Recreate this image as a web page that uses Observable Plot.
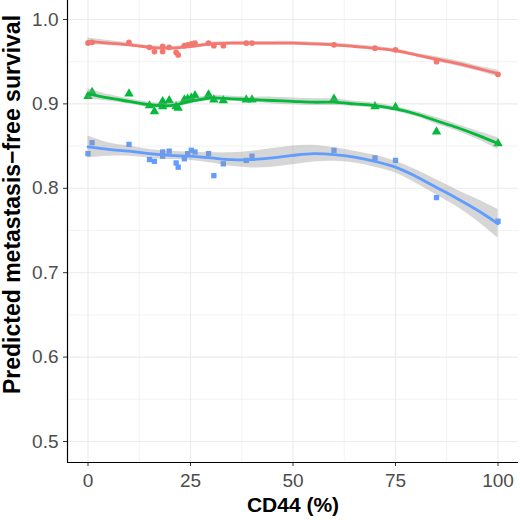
<!DOCTYPE html>
<html>
<head>
<meta charset="utf-8">
<script src="https://cdn.jsdelivr.net/npm/d3@7"></script>
<script src="https://cdn.jsdelivr.net/npm/@observablehq/plot@0.6"></script>
<style>
  html, body { margin: 0; padding: 0; background: white; }
</style>
</head>
<body>
<div id="chart"></div>
<script>
// CD44 (%) values of the observations (shared by the three series)
const cd44 = [0, 1, 10, 15, 16.2, 18.2, 18.2, 19.8, 21.5, 22, 23.5, 24.3, 25.2, 26.1, 29.4, 30.7, 33, 38.6, 40, 60, 70, 75, 85, 100];
// Predicted metastasis-free survival per series
const redPts   = [0.972, 0.973, 0.973, 0.967, 0.962, 0.968, 0.962, 0.967, 0.961, 0.958, 0.969, 0.970, 0.971, 0.972, 0.972, 0.969, 0.969, 0.972, 0.972, 0.970, 0.966, 0.964, 0.950, 0.935];
const greenPts = [0.909, 0.914, 0.912, 0.898, 0.891, 0.903, 0.897, 0.904, 0.897, 0.895, 0.905, 0.906, 0.907, 0.910, 0.911, 0.905, 0.904, 0.905, 0.905, 0.906, 0.897, 0.896, 0.867, 0.853];
const bluePts  = [0.841, 0.854, 0.852, 0.834, 0.832, 0.843, 0.838, 0.844, 0.830, 0.825, 0.835, 0.841, 0.845, 0.843, 0.841, 0.815, 0.829, 0.833, 0.838, 0.845, 0.836, 0.833, 0.789, 0.761];

const smoothX   = [0, 5, 10, 15, 20, 25, 30, 35, 40, 45, 50, 55, 60, 65, 70, 75, 80, 85, 90, 95, 100];
const redFit    = [0.974, 0.972, 0.970, 0.967, 0.966, 0.968, 0.971, 0.972, 0.972, 0.972, 0.972, 0.971, 0.970, 0.968, 0.966, 0.963, 0.958, 0.953, 0.948, 0.942, 0.936];
const redHw     = [0.004, 0.003, 0.002, 0.002, 0.002, 0.002, 0.002, 0.002, 0.002, 0.002, 0.002, 0.002, 0.002, 0.002, 0.002, 0.002, 0.002, 0.003, 0.003, 0.003, 0.004];
const greenFit  = [0.912, 0.907, 0.903, 0.899, 0.898, 0.903, 0.907, 0.906, 0.905, 0.904, 0.903, 0.902, 0.902, 0.900, 0.898, 0.894, 0.888, 0.880, 0.872, 0.863, 0.853];
const greenHw   = [0.006, 0.004, 0.003, 0.003, 0.003, 0.003, 0.003, 0.003, 0.003, 0.004, 0.004, 0.004, 0.004, 0.003, 0.003, 0.003, 0.003, 0.004, 0.004, 0.005, 0.007];
const blueFit   = [0.849, 0.846, 0.844, 0.841, 0.839, 0.838, 0.836, 0.834, 0.834, 0.836, 0.839, 0.841, 0.840, 0.837, 0.832, 0.825, 0.814, 0.801, 0.788, 0.774, 0.758];
const blueHw    = [0.013, 0.008, 0.006, 0.005, 0.005, 0.005, 0.006, 0.008, 0.010, 0.011, 0.011, 0.010, 0.008, 0.007, 0.007, 0.007, 0.008, 0.009, 0.010, 0.013, 0.017];

const xTicks = [0, 25, 50, 75, 100];
const xMinor = [12.5, 37.5, 62.5, 87.5];
const yTicks = [0.5, 0.6, 0.7, 0.8, 0.9, 1.0];
const yMinor = [0.55, 0.65, 0.75, 0.85, 0.95];
const xTitle = "CD44 (%)";
const yTitle = "Predicted metastasis\u2212free survival";

const colors = {red: "#F8766D", green: "#00BA38", blue: "#619CFF"};

const pts = (ys) => cd44.map((x, i) => ({x, y: ys[i]}));
const smooth = (fit, hw) => smoothX.map((x, i) => ({x, y: fit[i], lo: fit[i] - hw[i], hi: fit[i] + hw[i]}));

const series = [
  {pts: pts(redPts), sm: smooth(redFit, redHw), color: colors.red, symbol: "circle", r: 2.9},
  {pts: pts(greenPts), sm: smooth(greenFit, greenHw), color: colors.green, symbol: "triangle", r: 3.5},
  {pts: pts(bluePts), sm: smooth(blueFit, blueHw), color: colors.blue, symbol: "square", r: 3.0}
];

const curve = "catmull-rom";
const xDom = [-5, 105];
const yDom = [0.4751, 1.0225];

const marks = [
  Plot.ruleX(xMinor, {stroke: "#ebebeb", strokeWidth: 0.6}),
  Plot.ruleY(yMinor, {stroke: "#ebebeb", strokeWidth: 0.6}),
  Plot.ruleX(xTicks, {stroke: "#ebebeb", strokeWidth: 1.1}),
  Plot.ruleY(yTicks, {stroke: "#ebebeb", strokeWidth: 1.1})
];
for (const s of series) {
  marks.push(Plot.dot(s.pts, {x: "x", y: "y", symbol: () => s.symbol, fill: s.color, r: s.r, stroke: "none"}));
}
for (const s of series) {
  marks.push(Plot.areaY(s.sm, {x: "x", y1: "lo", y2: "hi", fill: "#999999", fillOpacity: 0.4, curve}));
  marks.push(Plot.lineY(s.sm, {x: "x", y: "y", stroke: s.color, strokeWidth: 2.8, curve}));
}
marks.push(
  Plot.axisX(xTicks, {tickSize: 4, tickPadding: 7, fontSize: 19, label: null, stroke: "#333333", fill: "#4d4d4d"}),
  Plot.axisY(yTicks, {tickSize: 4, tickPadding: 5, fontSize: 19, label: null, tickFormat: d3.format(".1f"), stroke: "#333333", fill: "#4d4d4d"}),
  Plot.ruleX([xDom[0]], {stroke: "black", strokeWidth: 1.2}),
  Plot.ruleY([yDom[0]], {stroke: "black", strokeWidth: 1.2}),
  Plot.text([xTitle], {frameAnchor: "bottom", dy: 43, text: d => d, fontSize: 21, fontWeight: "bold", fill: "black", lineAnchor: "middle", textAnchor: "middle"}),
  Plot.text([yTitle], {frameAnchor: "left", dx: -55, dy: -27, rotate: -90, text: d => d, fontSize: 23, fontWeight: "bold", fill: "black", lineAnchor: "middle", textAnchor: "middle"})
);

const chart = Plot.plot({
  width: 520,
  height: 520,
  marginLeft: 67,
  marginRight: 2,
  marginTop: 0,
  marginBottom: 58,
  x: {domain: xDom, axis: null},
  y: {domain: yDom, axis: null},
  style: {fontFamily: "'Liberation Sans', Arial, Helvetica, sans-serif", background: "white", color: "#4d4d4d", overflow: "visible"},
  marks
});
document.getElementById("chart").appendChild(chart);
</script>
</body>
</html>
